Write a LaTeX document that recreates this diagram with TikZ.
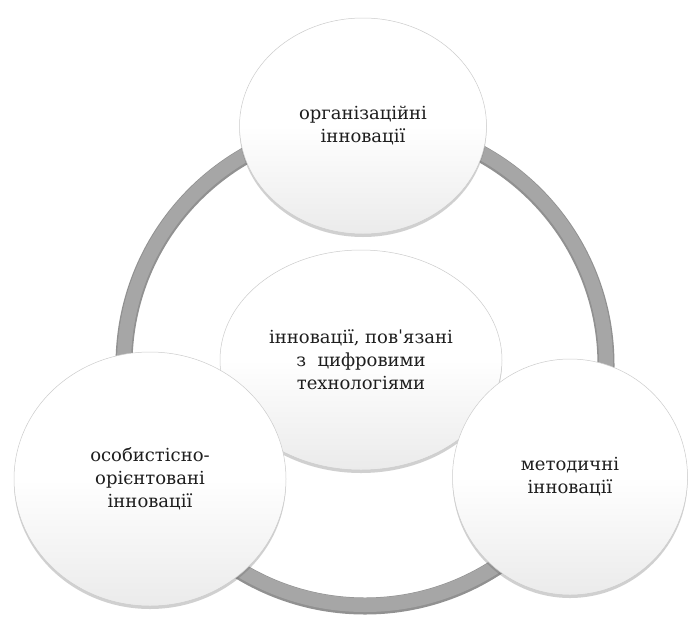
\documentclass[tikz,border=0pt]{standalone}
\usepackage{fontspec}
\setmainfont{DejaVu Serif}
\usetikzlibrary{shapes.geometric,shadows}
\definecolor{ringgray}{RGB}{166,166,166}
\definecolor{ringdark}{RGB}{145,145,145}
\definecolor{txt}{RGB}{30,30,30}
\pgfdeclareverticalshading{bubshade}{100bp}{color(0bp)=(black!15); color(28bp)=(black!7); color(50bp)=(white); color(100bp)=(white)}
\begin{document}
\begin{tikzpicture}[x=1pt,y=-1pt,
  bubble/.style={ellipse, inner sep=0pt, align=center,
    draw=black!20, line width=0.5pt,
    shade, shading=bubshade,
    drop shadow={shadow xshift=0pt, shadow yshift=-3pt, opacity=0.3, fill=black!60},
    font=\fontsize{18}{23}\selectfont, text=txt}]
\useasboundingbox (0,0) rectangle (690,616);
\fill[white] (0,0) rectangle (690,616);
% ring
\draw[ringdark, line width=17pt] (365,365) circle[radius=241];
\draw[ringgray, line width=14pt] (365,364) circle[radius=241];
% bubbles
\node[bubble, minimum width=247, minimum height=216] (org) at (363,126) {організаційні\\інновації};
\node[bubble, minimum width=282, minimum height=220] (dig) at (361,360) {інновації, повˈязані\\з\ \ цифровими\\технологіями};
\node[bubble, minimum width=272, minimum height=254] (pers) at (150,479) {особистісно-\\орієнтовані\\інновації};
\node[bubble, minimum width=235, minimum height=236] (meth) at (570,477) {методичні\\інновації};
\end{tikzpicture}
\end{document}
